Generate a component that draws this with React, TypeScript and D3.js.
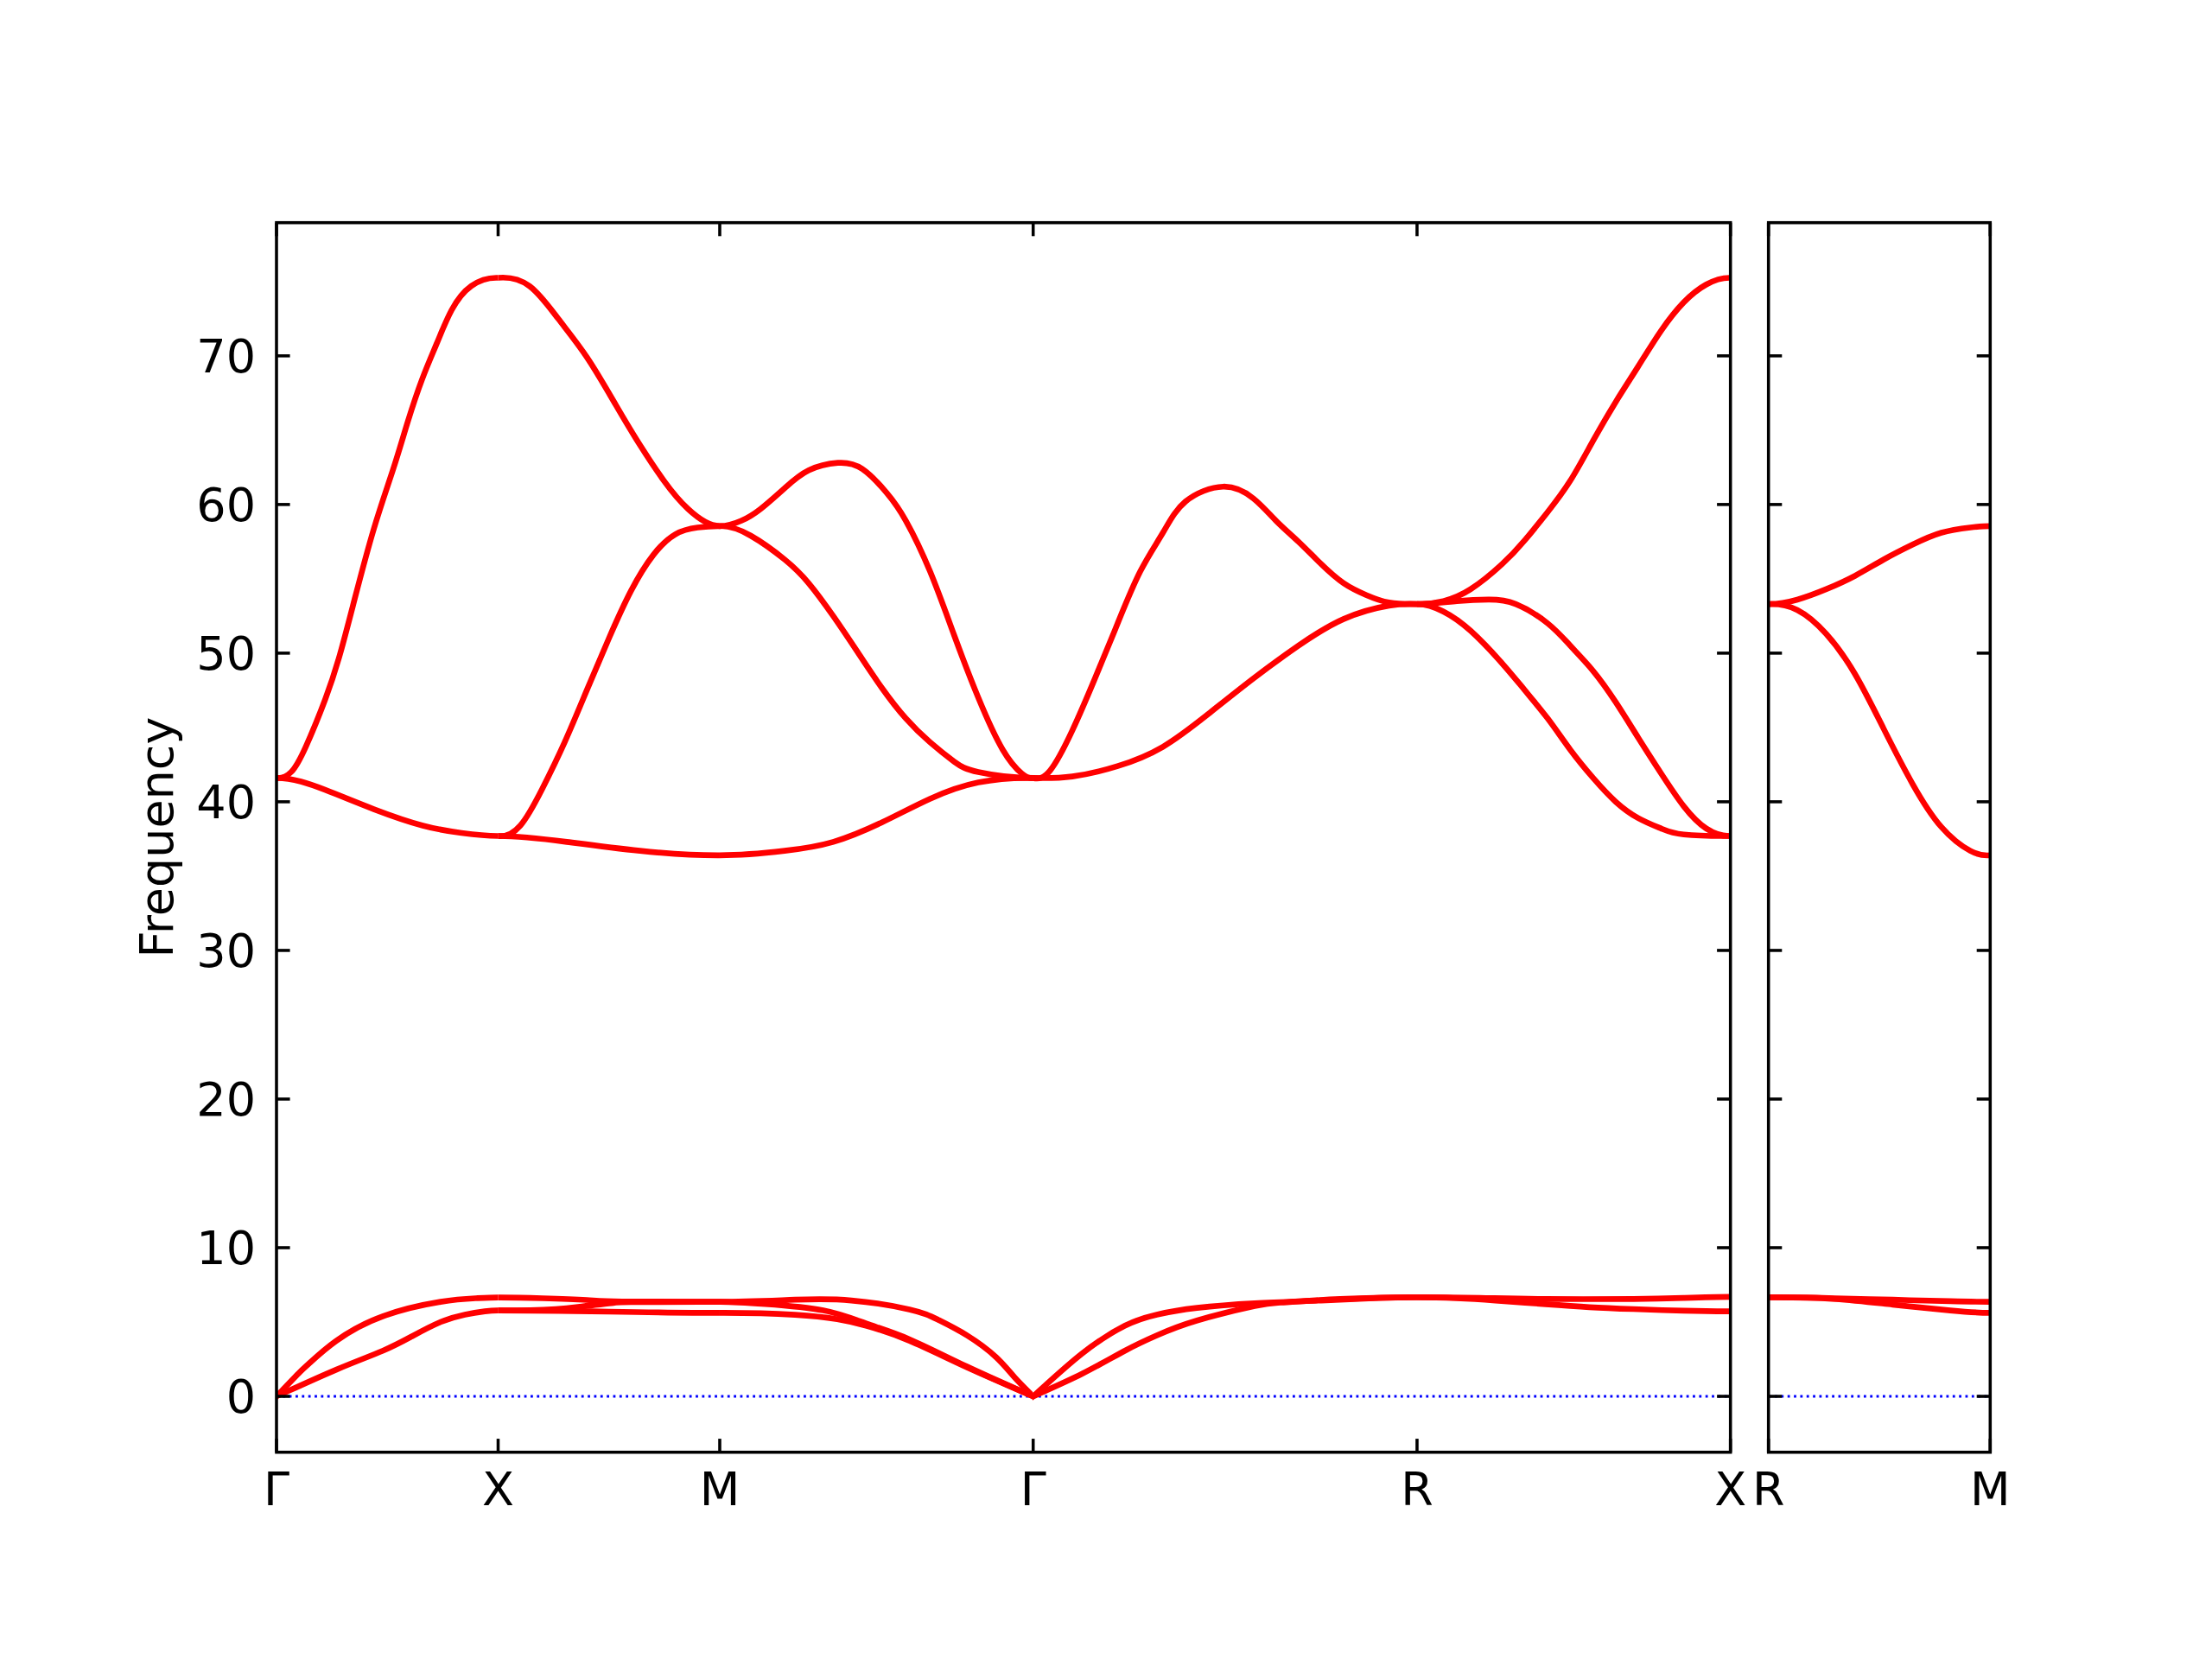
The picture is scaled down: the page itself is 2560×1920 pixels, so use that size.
import * as d3 from 'd3'

type Pt = [number, number]

// high-symmetry path: labels and segment lengths (reciprocal distance)
const pathLabels = ['Γ', 'X', 'M', 'Γ', 'R', 'X']
const segmentLengths = [1, 1, Math.SQRT2, Math.sqrt(3), Math.SQRT2]
const sideLabels = ['R', 'M']
const sideLengths = [1]

const yTicks = [0, 10, 20, 30, 40, 50, 60, 70]
const yDomain: [number, number] = [-3.76, 78.96]

// each band is a list of [fraction along segment, frequency]
const bandsGX: Pt[][] = [
  [[0, 0], [0.1, 1.55], [0.15, 2.25], [0.27, 3.74], [0.48, 5.39], [0.74, 6.36], [0.9, 6.6], [1, 6.65]],
  [[0, 0], [0.27, 1.8], [0.48, 3.07], [0.61, 4.03], [0.74, 5.0], [0.85, 5.5], [0.94, 5.72], [1, 5.78]],
  [[0, 41.6], [0.066, 42.0], [0.132, 43.7], [0.22, 46.9], [0.286, 49.9], [0.352, 53.6], [0.44, 58.4], [0.527, 62.4], [0.593, 65.6], [0.659, 68.5], [0.725, 70.9], [0.791, 73.1], [0.879, 74.7], [1, 75.25]],
  [[0, 41.6], [0.22, 40.8], [0.44, 39.5], [0.66, 38.4], [0.835, 37.9], [1, 37.7]],
]

const bandsXM: Pt[][] = [
  [[0, 6.65], [0.2, 6.6], [0.4, 6.48], [0.56, 6.38], [1, 6.36]],
  [[0, 5.78], [0.26, 5.87], [0.39, 6.07], [0.52, 6.28], [0.6, 6.34], [1, 6.36]],
  [[0, 5.78], [0.5, 5.7], [1, 5.62]],
  [[0, 75.25], [0.141, 74.7], [0.271, 72.5], [0.401, 69.9], [0.531, 66.7], [0.64, 64], [0.748, 61.6], [0.857, 59.7], [1, 58.55]],
  [[0, 37.7], [0.1, 38.4], [0.2, 40.9], [0.3, 44], [0.4, 47.5], [0.5, 51], [0.6, 54.2], [0.7, 56.6], [0.8, 58], [0.9, 58.45], [1, 58.55]],
  [[0, 37.7], [0.31, 37.3], [0.64, 36.7], [1, 36.4]],
]

const bandsMG: Pt[][] = [
  [[0, 6.36], [0.24, 6.5], [0.42, 6.45], [0.605, 5.85], [0.697, 5.15], [0.789, 4.1], [0.881, 2.65], [0.94, 1.3], [1, 0]],
  [[0, 6.36], [0.145, 6.21], [0.33, 5.78], [0.467, 4.9], [0.605, 3.84], [0.789, 2.0], [1, 0]],
  [[0, 5.62], [0.24, 5.49], [0.375, 5.19], [0.467, 4.75], [0.605, 3.74], [0.789, 1.95], [1, 0]],
  [[0, 58.55], [0.068, 58.9], [0.13, 59.7], [0.207, 61.1], [0.284, 62.3], [0.377, 62.8], [0.454, 62.4], [0.532, 60.8], [0.594, 58.9], [0.671, 55.5], [0.748, 51.2], [0.825, 47], [0.903, 43.5], [0.964, 41.9], [1, 41.6]],
  [[0, 58.55], [0.099, 57.9], [0.207, 56.3], [0.284, 54.7], [0.362, 52.5], [0.439, 50.1], [0.516, 47.7], [0.594, 45.6], [0.671, 44], [0.748, 42.7], [0.825, 42], [1, 41.6]],
  [[0, 36.4], [0.207, 36.7], [0.362, 37.3], [0.516, 38.6], [0.671, 40.2], [0.825, 41.3], [1, 41.6]],
]

const bandsGR: Pt[][] = [
  [[0, 0], [0.127, 2.87], [0.239, 4.75], [0.322, 5.5], [0.427, 5.95], [0.577, 6.26], [0.75, 6.45], [0.9, 6.62], [1, 6.66]],
  [[0, 0], [0.127, 1.51], [0.239, 3.07], [0.322, 4.1], [0.427, 5.1], [0.577, 6.07], [0.652, 6.32], [0.8, 6.55], [0.953, 6.65], [1, 6.66]],
  [[0, 41.6], [0.044, 42.1], [0.102, 44.8], [0.161, 48.3], [0.22, 52], [0.279, 55.5], [0.338, 58.1], [0.397, 60.2], [0.495, 61.2], [0.574, 60.4], [0.633, 58.9], [0.691, 57.5], [0.75, 56], [0.809, 54.7], [0.868, 53.9], [0.927, 53.4], [1, 53.3]],
  [[0, 41.6], [0.102, 41.7], [0.22, 42.4], [0.338, 43.7], [0.456, 45.9], [0.574, 48.3], [0.691, 50.5], [0.809, 52.3], [0.927, 53.2], [1, 53.3]],
]

const bandsRX: Pt[][] = [
  [[0, 6.66], [0.2, 6.62], [0.41, 6.55], [0.69, 6.55], [0.85, 6.62], [1, 6.69]],
  [[0, 6.66], [0.126, 6.6], [0.25, 6.45], [0.41, 6.2], [0.55, 6.0], [0.69, 5.87], [0.85, 5.76], [1, 5.72]],
  [[0, 53.3], [0.084, 53.5], [0.171, 54.3], [0.272, 56], [0.344, 57.6], [0.417, 59.5], [0.489, 61.6], [0.562, 64.3], [0.634, 66.9], [0.706, 69.3], [0.779, 71.7], [0.851, 73.6], [0.923, 74.8], [1, 75.25]],
  [[0, 53.3], [0.127, 53.5], [0.229, 53.6], [0.315, 53.3], [0.417, 52], [0.489, 50.5], [0.562, 48.8], [0.634, 46.7], [0.706, 44.3], [0.779, 41.9], [0.851, 39.7], [0.923, 38.2], [1, 37.7]],
  [[0, 53.3], [0.084, 52.8], [0.171, 51.5], [0.272, 49.3], [0.344, 47.5], [0.417, 45.6], [0.489, 43.5], [0.562, 41.6], [0.634, 40], [0.706, 38.9], [0.779, 38.2], [0.851, 37.8], [1, 37.7]],
]

const bandsRM: Pt[][] = [
  [[0, 6.66], [0.3, 6.6], [0.56, 6.5], [0.82, 6.4], [1, 6.36]],
  [[0, 6.66], [0.3, 6.55], [0.56, 6.17], [0.82, 5.78], [1, 5.62]],
  [[0, 53.3], [0.13, 53.6], [0.26, 54.3], [0.39, 55.2], [0.52, 56.3], [0.65, 57.3], [0.78, 58.1], [0.91, 58.45], [1, 58.55]],
  [[0, 53.3], [0.13, 52.9], [0.26, 51.3], [0.39, 48.6], [0.52, 44.9], [0.65, 41.2], [0.78, 38.3], [0.91, 36.7], [1, 36.4]],
]

const mainSegments = [bandsGX, bandsXM, bandsMG, bandsGR, bandsRX]
const sideSegments = [bandsRM]

const W = 2560
const H = 1920
const plotTop = 257.7
const plotBottom = 1680.7
const fontSize = 54
const tickLen = 15.6
const axisWidth = 3.56
const bandWidth = 6.67
const font = '"DejaVu Sans", sans-serif'

// add mirrored ghost points so the spline has the right slope at the
// segment ends: flat for optical/zone-boundary, linear for acoustic at Γ
function withGhosts(band: Pt[]): Pt[] {
  const first = band[0]
  const second = band[1]
  const last = band[band.length - 1]
  const prev = band[band.length - 2]
  const startGhost: Pt = first[1] === 0 ? [-second[0], -second[1]] : [-second[0], second[1]]
  const endGhost: Pt = last[1] === 0 ? [2 - prev[0], -prev[1]] : [2 - prev[0], prev[1]]
  return [startGhost, ...band, endGhost]
}

interface PanelProps {
  id: string
  x0: number
  x1: number
  labels: string[]
  lengths: number[]
  segments: Pt[][][]
  yLabels: boolean
}

function Panel({ id, x0, x1, labels, lengths, segments, yLabels }: PanelProps) {
  const cum = [0]
  lengths.forEach((l) => cum.push(cum[cum.length - 1] + l))
  const x = d3.scaleLinear().domain([0, cum[cum.length - 1]]).range([x0, x1])
  const y = d3.scaleLinear().domain(yDomain).range([plotBottom, plotTop])

  return (
    <g>
      <defs>
        {segments.map((_, s) => (
          <clipPath key={s} id={`${id}-${s}`}>
            <rect x={x(cum[s])} y={plotTop} width={x(cum[s + 1]) - x(cum[s])} height={plotBottom - plotTop} />
          </clipPath>
        ))}
      </defs>
      <line
        x1={x0}
        x2={x1}
        y1={y(0)}
        y2={y(0)}
        stroke="#0000ff"
        strokeWidth={2.8}
        strokeDasharray="2.8 4.55"
      />
      {segments.map((bands, s) => {
        const line = d3
          .line<Pt>()
          .x((d) => x(cum[s] + d[0] * lengths[s]))
          .y((d) => y(d[1]))
          .curve(d3.curveNatural)
        return (
          <g key={s} clipPath={`url(#${id}-${s})`}>
            {bands.map((band, i) => (
              <path key={i} d={line(withGhosts(band)) ?? ''} fill="none" stroke="#ff0000" strokeWidth={bandWidth} />
            ))}
          </g>
        )
      })}

      {yTicks.map((t) => (
        <g key={t}>
          <line x1={x0} x2={x0 + tickLen} y1={y(t)} y2={y(t)} stroke="#000" strokeWidth={axisWidth} />
          <line x1={x1} x2={x1 - tickLen} y1={y(t)} y2={y(t)} stroke="#000" strokeWidth={axisWidth} />
          {yLabels && (
            <text x={x0 - 24} y={y(t)} dy="0.36em" textAnchor="end" fontFamily={font} fontSize={fontSize}>
              {t}
            </text>
          )}
        </g>
      ))}

      {cum.map((c, i) => (
        <g key={i}>
          <line x1={x(c)} x2={x(c)} y1={plotBottom} y2={plotBottom - tickLen} stroke="#000" strokeWidth={axisWidth} />
          <line x1={x(c)} x2={x(c)} y1={plotTop} y2={plotTop + tickLen} stroke="#000" strokeWidth={axisWidth} />
          <text x={x(c)} y={plotBottom + 61} textAnchor="middle" fontFamily={font} fontSize={fontSize}>
            {labels[i]}
          </text>
        </g>
      ))}

      <rect
        x={x0}
        y={plotTop}
        width={x1 - x0}
        height={plotBottom - plotTop}
        fill="none"
        stroke="#000"
        strokeWidth={axisWidth}
        strokeLinejoin="miter"
      />
    </g>
  )
}

export default function App() {
  return (
    <svg
      width={W}
      height={H}
      viewBox={`0 0 ${W} ${H}`}
      style={{ position: 'absolute', left: 0, top: 0, background: '#fff' }}
    >
      <rect width={W} height={H} fill="#fff" />
      <Panel
        id="clip-main"
        x0={320}
        x1={2002.7}
        labels={pathLabels}
        lengths={segmentLengths}
        segments={mainSegments}
        yLabels
      />
      <Panel
        id="clip-side"
        x0={2046.7}
        x1={2303.3}
        labels={sideLabels}
        lengths={sideLengths}
        segments={sideSegments}
        yLabels={false}
      />
      <text
        transform={`translate(200, 969) rotate(-90)`}
        textAnchor="middle"
        fontFamily={font}
        fontSize={fontSize}
      >
        Frequency
      </text>
    </svg>
  )
}
